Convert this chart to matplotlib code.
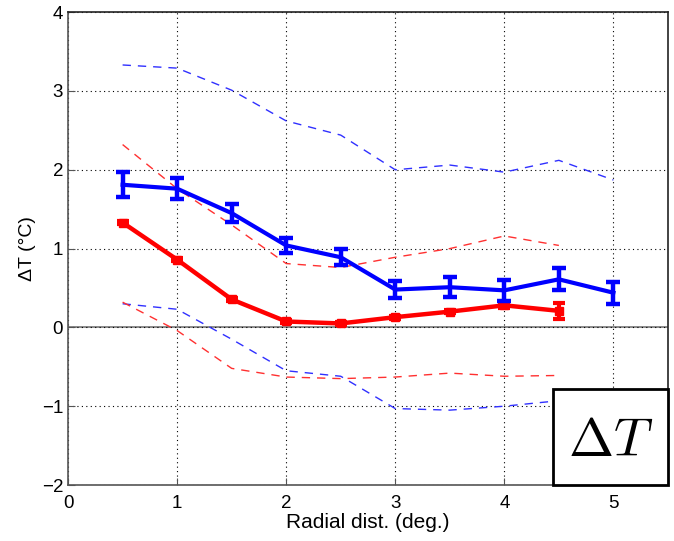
import matplotlib
matplotlib.use('Agg')
import matplotlib.pyplot as plt
from matplotlib import patches
import numpy as np

plt.rcParams['font.family'] = ['Liberation Sans', 'DejaVu Sans']
plt.rcParams['mathtext.fontset'] = 'cm'

# radial distance (deg.)
x_blue = [0.5, 1.0, 1.5, 2.0, 2.5, 3.0, 3.5, 4.0, 4.5, 5.0]
x_red = [0.5, 1.0, 1.5, 2.0, 2.5, 3.0, 3.5, 4.0, 4.5]

blue_mean = [1.81, 1.76, 1.45, 1.04, 0.89, 0.48, 0.51, 0.47, 0.61, 0.44]
blue_err = [0.16, 0.13, 0.11, 0.10, 0.10, 0.11, 0.13, 0.13, 0.14, 0.14]
blue_hi = [3.33, 3.29, 3.01, 2.62, 2.44, 2.00, 2.06, 1.97, 2.12, 1.87]
blue_lo = [0.30, 0.23, -0.15, -0.55, -0.62, -1.03, -1.05, -1.00, -0.93, -0.98]

red_mean = [1.33, 0.86, 0.355, 0.075, 0.05, 0.13, 0.20, 0.28, 0.21]
red_err = [0.02, 0.02, 0.02, 0.02, 0.02, 0.02, 0.02, 0.04, 0.10]
red_hi = [2.32, 1.76, 1.30, 0.81, 0.76, 0.89, 1.00, 1.16, 1.04]
red_lo = [0.32, -0.04, -0.52, -0.63, -0.65, -0.63, -0.58, -0.62, -0.61]

fig = plt.figure(figsize=(6.74, 5.41), dpi=100)
ax = fig.add_axes([0.101, 0.1035, 0.890, 0.874])

ax.grid(True, color='k', linestyle=(0, (1, 3)), linewidth=0.8)
ax.axhline(0, color='#777777', linewidth=1.2, zorder=1)

ax.plot(x_blue, blue_hi, color='#3030ff', linestyle=(0, (6, 5)), linewidth=1)
ax.plot(x_blue, blue_lo, color='#3030ff', linestyle=(0, (6, 5)), linewidth=1)
ax.plot(x_red, red_hi, color='#ff3030', linestyle=(0, (6, 5)), linewidth=1)
ax.plot(x_red, red_lo, color='#ff3030', linestyle=(0, (6, 5)), linewidth=1)

ax.errorbar(x_blue, blue_mean, yerr=blue_err, color='#0000ff', linewidth=3,
            elinewidth=3.2, capsize=5, capthick=3.2, zorder=4)
ax.errorbar(x_red, red_mean, yerr=red_err, color='#ff0000', linewidth=3.2,
            elinewidth=3, capsize=4, capthick=3, marker='s', markersize=6,
            zorder=3)

ax.set_xlim(0, 5.5)
ax.set_ylim(-2, 4)
ax.set_xticks([0, 1, 2, 3, 4, 5])
ax.set_yticks([-2, -1, 0, 1, 2, 3, 4])
ax.set_yticklabels(['\u22122', '\u22121', '0', '1', '2', '3', '4'])
ax.tick_params(labelsize=13.5, direction='in', length=5, color='#555555')
ax.tick_params(axis='x', pad=7)
for sp in ax.spines.values():
    sp.set_color('#555555')
    sp.set_linewidth(1.2)
ax.spines['top'].set_color('#222222')
ax.spines['right'].set_color('#222222')

ax.set_xlabel('Radial dist. (deg.)', fontsize=15, labelpad=1)
ax.set_ylabel('\u0394T (\u00b0C)', fontsize=14, labelpad=4)

box = patches.Rectangle((0.808, 0.0), 0.192, 0.203, transform=ax.transAxes,
                        facecolor='white', edgecolor='black', linewidth=2,
                        zorder=6, clip_on=False)
ax.add_patch(box)
ax.text(0.904, 0.09, r'$\Delta T$', transform=ax.transAxes, fontsize=39,
        ha='center', va='center', zorder=7)

fig.savefig('out.png', dpi=100)
